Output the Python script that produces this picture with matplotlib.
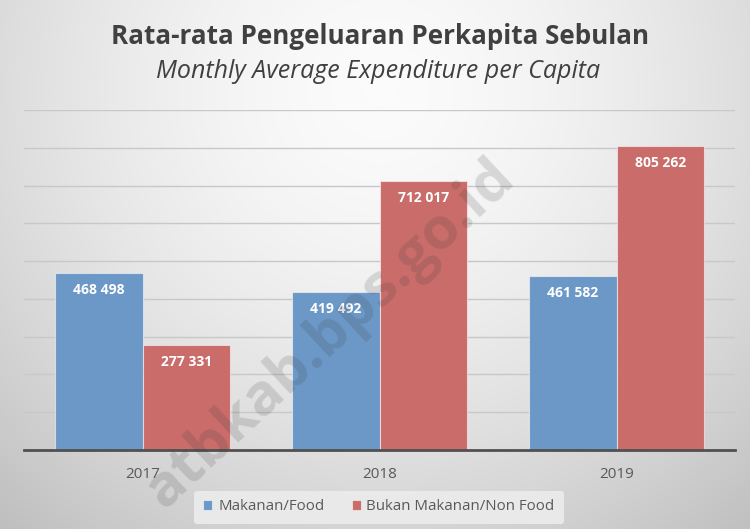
import numpy as np
import matplotlib
matplotlib.use("Agg")
import matplotlib.pyplot as plt

years = ["2017", "2018", "2019"]
food = [468498, 419492, 461582]
nonfood = [277331, 712017, 805262]
food_labels = ["468 498", "419 492", "461 582"]
nonfood_labels = ["277 331", "712 017", "805 262"]
series_names = ["Makanan/Food", "Bukan Makanan/Non Food"]
title = "Rata-rata Pengeluaran Perkapita Sebulan"
subtitle = "Monthly Average Expenditure per Capita"
watermark = "atbkab.bps.go.id"

W, H = 750, 529
fig = plt.figure(figsize=(W / 100, H / 100), dpi=100)

# radial gradient background
bg = fig.add_axes([0, 0, 1, 1], zorder=-10)
yy, xx = np.mgrid[0:H, 0:W]
r = np.sqrt(((xx - 380) / 520.0) ** 2 + ((yy - 90) / 520.0) ** 2)
val = 0.985 - 0.20 * np.clip(r, 0, 1.2) ** 1.6
img = np.dstack([val, val, val])
bg.imshow(img, extent=[0, 1, 0, 1], aspect="auto", origin="upper")
bg.axis("off")

ax = fig.add_axes([24 / W, 1 - 450 / H, (735 - 24) / W, (450 - 110) / H])
ax.patch.set_alpha(0)

x = np.arange(len(years))
bw = 0.371
blue = "#6C98C8"
red = "#C96C6A"
b1 = ax.bar(x - bw / 2, food, bw, color=blue, edgecolor=(1, 1, 1, 0.55), linewidth=0.8, zorder=3, label=series_names[0])
b2 = ax.bar(x + bw / 2, nonfood, bw, color=red, edgecolor=(1, 1, 1, 0.55), linewidth=0.8, zorder=3, label=series_names[1])

ax.set_xlim(-0.5, len(years) - 0.5)
ax.set_ylim(0, 900000)
ax.set_yticks(np.arange(100000, 900001, 100000))
ax.yaxis.grid(True, color="#c8c8c8", linewidth=1.0, zorder=0)
ax.set_axisbelow(True)
ax.tick_params(axis="y", left=False, labelleft=False)
ax.tick_params(axis="x", bottom=False, labelsize=11, labelcolor="#595959", pad=9)
ax.set_xticks(x)
ax.set_xticklabels(years, fontfamily="Open Sans")
for s in ["top", "right", "left"]:
    ax.spines[s].set_visible(False)
ax.spines["bottom"].set_color("#505050")
ax.spines["bottom"].set_linewidth(2)
ax.spines["bottom"].set_zorder(4)

for bars, labs in ((b1, food_labels), (b2, nonfood_labels)):
    for rect, lab in zip(bars, labs):
        ax.annotate(lab, (rect.get_x() + rect.get_width() / 2, rect.get_height()),
                    xytext=(0, -17), textcoords="offset pixels",
                    ha="center", va="center", color="white", fontsize=10,
                    fontweight="bold", fontfamily="Open Sans", zorder=5)

fig.text(380 / W, 1 - 36 / H, title, ha="center", va="center", fontsize=18.7,
         fontweight="bold", color="#404040", fontfamily="Open Sans")
fig.text(378 / W, 1 - 72 / H, subtitle, ha="center", va="center", fontsize=18,
         fontstyle="italic", color="#404040", fontfamily="Open Sans")

leg = fig.legend(handles=[b1, b2], labels=series_names, loc="center",
                 bbox_to_anchor=(379 / W, 1 - 507 / H), ncol=2, frameon=True,
                 handlelength=0.6, handleheight=0.6, handletextpad=0.4,
                 columnspacing=1.8, borderpad=0.6,
                 prop={"family": "Open Sans", "size": 10.8})
leg.get_frame().set_facecolor("#ececec")
leg.get_frame().set_edgecolor("none")
leg.get_frame().set_alpha(0.9)
for t in leg.get_texts():
    t.set_color("#595959")

fig.text(330 / W, 1 - 334 / H, watermark, ha="center", va="center", rotation=43,
         fontsize=42, fontweight="bold", color="#3a3a3a", alpha=0.16,
         fontfamily="Open Sans", zorder=20)

fig.savefig("out.png", dpi=100)
